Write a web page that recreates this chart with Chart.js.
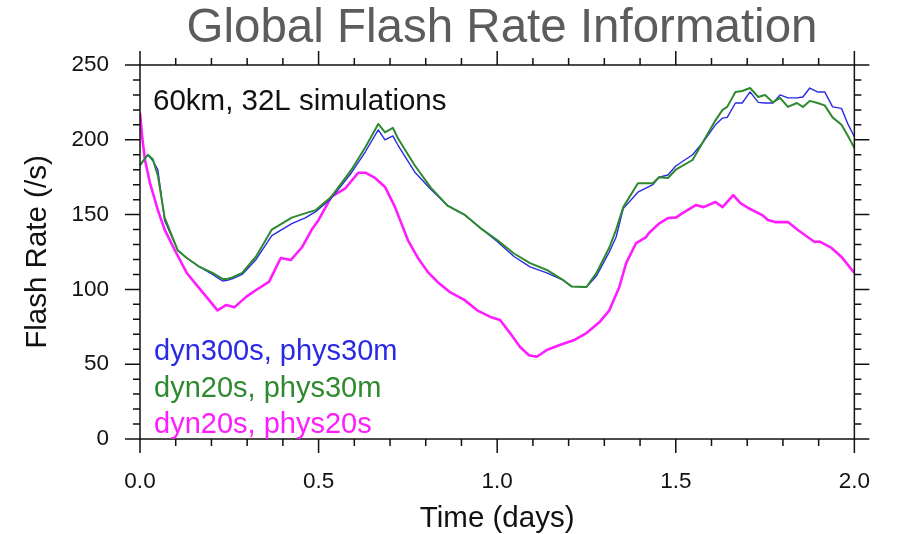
<!DOCTYPE html>
<html>
<head>
<meta charset="utf-8">
<title>Global Flash Rate Information</title>
<script src="https://cdn.jsdelivr.net/npm/chart.js@4"></script>
<style>
  html, body { margin: 0; padding: 0; background: #fff; }
  #wrap { width: 899px; height: 534px; }
</style>
</head>
<body>
<div id="wrap"><canvas id="flashChart"></canvas></div>
<script>
const FONT = '"Liberation Sans", Arial, Helvetica, sans-serif';

const chartTitle = 'Global Flash Rate Information';
const runNote = '60km, 32L simulations';
const xTitle = 'Time (days)';
const yTitle = 'Flash Rate (/s)';

const seriesLabels = ['dyn300s, phys30m', 'dyn20s, phys30m', 'dyn20s, phys20s'];
const seriesColors = ['#2a2ae6', '#2f8a2f', '#ff1cff'];

// blue and green runs (30 min physics)
const slowDays = [0, 0.022, 0.036, 0.05, 0.069, 0.106, 0.131, 0.167, 0.203, 0.231, 0.244, 0.258,
  0.286, 0.325, 0.369, 0.425, 0.464, 0.492, 0.536, 0.592, 0.631, 0.667, 0.686, 0.708, 0.722,
  0.769, 0.814, 0.861, 0.908, 0.953, 1.0, 1.047, 1.092, 1.139, 1.186, 1.208, 1.25, 1.278,
  1.314, 1.333, 1.353, 1.394, 1.436, 1.453, 1.478, 1.5, 1.547, 1.575, 1.611, 1.631, 1.644,
  1.667, 1.686, 1.708, 1.731, 1.75, 1.772, 1.792, 1.814, 1.839, 1.856, 1.875, 1.897, 1.917,
  1.939, 1.964, 1.981, 2.0];
const dyn300Rate = [183, 190, 186, 180, 146, 126, 121, 115, 110, 105.6, 106, 107,
  110, 120, 136, 144, 148, 152, 161, 178, 192, 206.6, 200, 202.6, 196.5,
  178.5, 167, 156, 150, 141, 132, 122, 115, 111, 106, 102, 101.6, 109,
  125, 135, 154, 165, 170, 175, 176.5, 182.5, 190, 198, 210, 214.5, 215,
  224.6, 224.6, 232, 225, 224.6, 224.6, 230, 228, 228, 228.6, 234.6, 232, 232,
  222, 221, 211, 202];
const dyn20Rate = [183, 190, 187, 176, 148, 126, 121, 115, 111, 107, 107, 108,
  111, 122, 140, 148, 151, 153, 162, 180, 195, 210.6, 205, 208, 201,
  183, 168, 156, 150, 141, 133, 124, 117.6, 113, 106, 102, 101.6, 111,
  128, 140, 155, 171, 171, 175, 174.5, 180, 186.5, 198, 213, 220, 222,
  232, 232.6, 234.6, 228.6, 230, 225, 228, 222, 224.6, 222, 226, 224.6, 223,
  215, 210, 203, 194.5];

// magenta run (20 s physics)
const fastDays = [0, 0.006, 0.014, 0.028, 0.05, 0.069, 0.1, 0.131, 0.158, 0.186, 0.217, 0.242,
  0.264, 0.297, 0.325, 0.361, 0.394, 0.422, 0.453, 0.481, 0.5, 0.536, 0.575, 0.611, 0.631,
  0.658, 0.686, 0.714, 0.75, 0.778, 0.806, 0.833, 0.869, 0.908, 0.944, 0.981, 1.008, 1.036,
  1.064, 1.089, 1.111, 1.139, 1.175, 1.214, 1.25, 1.286, 1.314, 1.342, 1.361, 1.389, 1.417,
  1.425, 1.453, 1.478, 1.5, 1.519, 1.556, 1.578, 1.611, 1.631, 1.661, 1.681, 1.703, 1.742,
  1.758, 1.778, 1.814, 1.842, 1.869, 1.889, 1.903, 1.936, 1.964, 2.0];
const fastRate = [218, 202, 186.5, 171, 153, 140, 125, 111, 103, 95, 86, 89.6,
  88, 95, 99.6, 105, 121, 119.6, 128, 140, 146.4, 162, 167.6, 178, 178,
  174.5, 168.5, 155, 133, 121, 111.6, 105, 98, 93, 86, 81.6, 79.5, 70.8,
  61.5, 56, 55, 59.5, 62.8, 66, 70.8, 78, 86, 101.6, 117.6, 131, 135,
  137.7, 144, 147.7, 148, 151, 156.4, 155, 158.4, 155, 163, 157.7, 154.4, 149.7,
  146.4, 145, 145, 139.7, 135, 131.7, 132, 127.7, 121.7, 111];

const xMajor = 0.5, xMinor = 0.1;
const yMajor = 50, yMinor = 10;

function pairs(xs, ys) { return xs.map((d, i) => ({ x: d, y: ys[i] })); }

// box round the plot with NCL-style outward ticks on all four sides
const framePlugin = {
  id: 'frame',
  afterDatasetsDraw(chart) {
    const { ctx, chartArea: a, scales: { x, y } } = chart;
    ctx.save();
    ctx.strokeStyle = '#111';
    ctx.lineWidth = 1.5;
    ctx.strokeRect(a.left, a.top, a.right - a.left, a.bottom - a.top);
    ctx.beginPath();
    const nx = Math.round((x.max - x.min) / xMinor);
    for (let i = 0; i <= nx; i++) {
      const px = x.getPixelForValue(x.min + i * xMinor);
      const len = (i % Math.round(xMajor / xMinor) === 0) ? 14 : 7;
      ctx.moveTo(px, a.bottom); ctx.lineTo(px, a.bottom + len);
      ctx.moveTo(px, a.top); ctx.lineTo(px, a.top - len);
    }
    const ny = Math.round((y.max - y.min) / yMinor);
    for (let i = 0; i <= ny; i++) {
      const py = y.getPixelForValue(y.min + i * yMinor);
      const len = (i % Math.round(yMajor / yMinor) === 0) ? 15 : 7;
      ctx.moveTo(a.left, py); ctx.lineTo(a.left - len, py);
      ctx.moveTo(a.right, py); ctx.lineTo(a.right + len, py);
    }
    ctx.stroke();
    ctx.restore();
  }
};

const textPlugin = {
  id: 'texts',
  afterDraw(chart) {
    const { ctx, chartArea: a } = chart;
    ctx.save();
    ctx.textBaseline = 'alphabetic';

    ctx.font = '47.5px ' + FONT;
    ctx.fillStyle = '#5c5c5c';
    ctx.textAlign = 'center';
    ctx.fillText(chartTitle, 502, 42);

    ctx.textAlign = 'left';
    ctx.font = '29.5px ' + FONT;
    ctx.fillStyle = '#111';
    ctx.fillText(runNote, 153, 110);

    ctx.font = '29px ' + FONT;
    const base = [360, 397, 433];
    seriesLabels.forEach((lab, i) => {
      ctx.fillStyle = seriesColors[i];
      ctx.fillText(lab, 154, base[i]);
    });

    ctx.font = '29.5px ' + FONT;
    ctx.fillStyle = '#111';
    ctx.textAlign = 'center';
    ctx.fillText(xTitle, (a.left + a.right) / 2, 527);

    ctx.translate(46, (a.top + a.bottom) / 2);
    ctx.rotate(-Math.PI / 2);
    ctx.fillText(yTitle, 0, 0);
    ctx.restore();
  }
};

Chart.defaults.font.family = FONT;
Chart.defaults.color = '#111';

new Chart(document.getElementById('flashChart'), {
  type: 'line',
  data: {
    datasets: [
      { label: seriesLabels[0], data: pairs(slowDays, dyn300Rate), borderColor: seriesColors[0], borderWidth: 1.4, order: 1 },
      { label: seriesLabels[1], data: pairs(slowDays, dyn20Rate), borderColor: seriesColors[1], borderWidth: 2, order: 0 },
      { label: seriesLabels[2], data: pairs(fastDays, fastRate), borderColor: seriesColors[2], borderWidth: 2.6, order: 2 }
    ]
  },
  options: {
    responsive: true,
    maintainAspectRatio: false,
    animation: false,
    layout: { padding: { left: 0, right: 39, top: 65, bottom: 0 } },
    elements: { point: { radius: 0 }, line: { tension: 0, borderJoinStyle: 'round' } },
    plugins: { legend: { display: false }, tooltip: { enabled: false }, title: { display: false } },
    scales: {
      x: {
        type: 'linear', min: 0, max: 2,
        grid: { display: false, drawTicks: false },
        border: { display: false },
        ticks: { stepSize: xMajor, padding: 29, font: { size: 22.5 }, color: '#111',
                 callback: v => Number(v).toFixed(1) },
        afterFit: s => { s.height = 95; }
      },
      y: {
        min: 0, max: 250,
        grid: { display: false, drawTicks: false },
        border: { display: false },
        ticks: { stepSize: yMajor, padding: 31, font: { size: 22.5 }, color: '#111' },
        afterFit: s => { s.width = 140; }
      }
    }
  },
  plugins: [framePlugin, textPlugin]
});
</script>
</body>
</html>
